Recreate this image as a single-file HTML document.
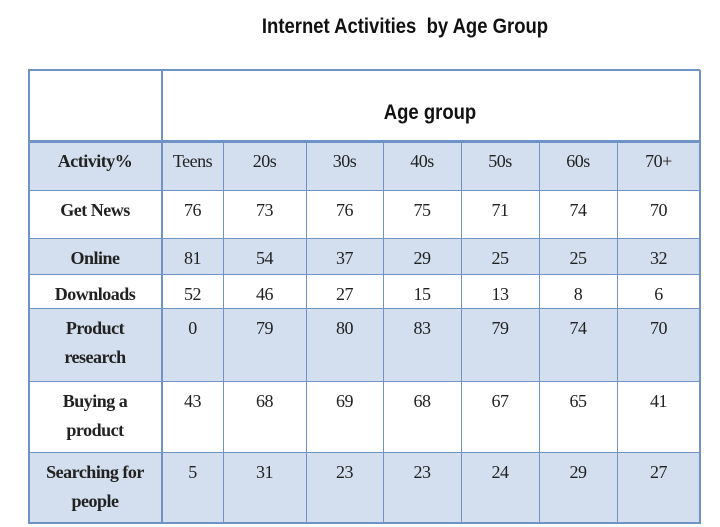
<!DOCTYPE html>
<html><head><meta charset="utf-8"><style>
body{margin:0;background:#fff;width:720px;height:527px;overflow:hidden;position:relative;font-family:"Liberation Serif",serif}
.c{position:absolute;box-sizing:border-box;text-align:center;color:#222;font-size:18px;padding-top:6px;line-height:29px;letter-spacing:-0.5px}
.l{font-weight:bold;padding-left:18px;padding-right:18px}
.t{position:absolute;font-family:"Liberation Sans",sans-serif;font-weight:bold;color:#111;white-space:nowrap;transform:scaleX(0.88);transform-origin:center}
.h{position:absolute;background:#6f93c4}
</style></head><body>
<div class="t" style="left:200px;width:410px;top:15px;font-size:21px;text-align:center">Internet Activities &nbsp;by Age Group</div>
<div id="tbl"></div>
<script>
const groups=["Teens","20s","30s","40s","50s","60s","70+"];
const activities=["Get News","Online games","Downloads","Product research","Buying a product","Searching for people"];
const rowGetNews=[76,73,76,75,71,74,70];
const rowOnlineGames=[81,54,37,29,25,25,32];
const rowDownloads=[52,46,27,15,13,8,6];
const rowProductResearch=[0,79,80,83,79,74,70];
const rowBuying=[43,68,69,68,67,65,41];
const rowSearching=[5,31,23,23,24,29,27];
const rows=[rowGetNews,rowOnlineGames,rowDownloads,rowProductResearch,rowBuying,rowSearching];
const colX=[28,162,223,306,383,461,539,617,700];
const rowY=[141,190,238,274,308,381,452,522];
const shaded=[true,false,true,false,true,false,true];
const tbl=document.getElementById('tbl');
function cell(x0,x1,y0,y1,txt,cls,bg,name){
  const d=document.createElement('div');
  d.className='c '+cls;
  d.style.cssText+=`left:${x0}px;top:${y0}px;width:${x1-x0}px;height:${y1-y0}px;background:${bg}`;
  d.textContent=txt;
  
  
  tbl.appendChild(d);
}
const hb=document.createElement('div');
hb.style.cssText='position:absolute;left:28px;top:70px;width:672px;height:71px;background:#fff';


tbl.appendChild(hb);
const ag=document.createElement('div');
ag.className='t';ag.textContent='Age group';
ag.style.cssText+='left:330px;width:200px;top:101px;font-size:21px;text-align:center';


tbl.appendChild(ag);
for(let r=0;r<7;r++){
  const bg=shaded[r]?'#d3dfee':'#fff';
  const y0=rowY[r],y1=rowY[r+1];
  cell(colX[0],colX[1],y0,y1,r==0?'Activity%':activities[r-1],'l',bg,r==0?'activity-header':'activity-label');
  for(let c=0;c<7;c++){
    cell(colX[c+1],colX[c+2],y0,y1,r==0?groups[c]:String(rows[r-1][c]),'',bg,r==0?'age-group-label':'value-cell');
  }
}
function line(x,y,w,h){const d=document.createElement('div');d.className='h';d.style.cssText+=`left:${x}px;top:${y}px;width:${w}px;height:${h}px`;


tbl.appendChild(d);}
line(28,69,672,2);line(28,522,672,2);
line(28,140,672,3);
rowY.slice(1,-1).forEach(y=>line(28,y,672,1));
line(28,70,2,454);line(699,70,2,454);line(161,70,2,454);
colX.slice(2,-1).forEach(x=>line(x,141,1,383));
</script>
</body></html>
